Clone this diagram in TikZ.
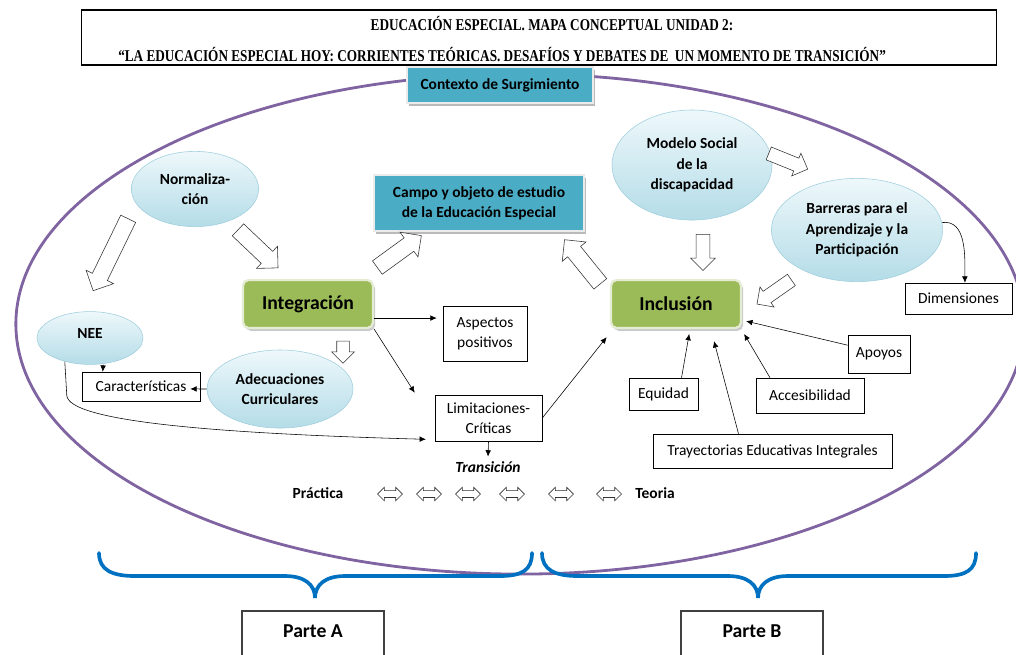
\documentclass[tikz,border=0pt]{standalone}
\usepackage{fontspec}
\setmainfont{Carlito}
\newfontfamily\titlefont{Liberation Serif}
\usetikzlibrary{shapes.geometric,shapes.arrows,arrows.meta,shadows,positioning}

\definecolor{tealfill}{HTML}{4BACC6}
\definecolor{greenfill}{HTML}{9BBB59}
\definecolor{greenedge}{HTML}{E4ECD3}
\definecolor{ovaltop}{HTML}{EEF8FB}
\definecolor{ovalbot}{HTML}{B4DCE7}
\definecolor{ovalline}{HTML}{9FCEDD}
\definecolor{bigoval}{HTML}{8064A2}
\definecolor{bracecol}{HTML}{0070C0}

\begin{document}
\begin{tikzpicture}[x=0.025cm, y=-0.025cm,
    oval/.style={ellipse, draw=ovalline, top color=ovaltop, bottom color=ovalbot,
      inner sep=0pt, align=center, font=\fontsize{11}{14.5}\selectfont\bfseries},
    tealbox/.style={rectangle, draw=white!92!black, line width=1pt, fill=tealfill,
      drop shadow={shadow xshift=1.5pt, shadow yshift=-2pt, fill=black!45, opacity=0.6},
      align=center, font=\fontsize{11}{14.5}\selectfont\bfseries},
    greenbox/.style={rectangle, rounded corners=4pt, draw=greenedge, line width=1.6pt,
      fill=greenfill, minimum width=3.25cm, minimum height=1.2cm,
      drop shadow={shadow xshift=1.5pt, shadow yshift=-2pt, fill=black!35, opacity=0.6},
      font=\fontsize{14}{16}\selectfont\bfseries},
    plainbox/.style={rectangle, draw=black, thin, fill=white, align=center,
      inner sep=2pt, font=\fontsize{11}{14.5}\selectfont},
    partebox/.style={rectangle, draw=black!75, line width=0.8pt, minimum width=3.55cm,
      minimum height=1.4cm, text height=0.32cm, text depth=0.42cm,
      font=\fontsize{14}{16}\selectfont\bfseries},
    blockarrow/.style={single arrow, draw=black!80, fill=white, thin, inner xsep=0pt,
      inner ysep=0.2cm, minimum width=0.75cm, single arrow head extend=0.175cm},
    smallarrow/.style={blockarrow, inner ysep=0.165cm, minimum width=0.6cm,
      single arrow head extend=0.135cm},
    twoway/.style={double arrow, draw=black!80, fill=white, thin, inner xsep=0pt,
      inner ysep=0.08cm, minimum height=0.62cm, minimum width=0.33cm,
      double arrow head extend=0.08cm},
    conn/.style={-{Latex[length=4.5pt,width=4pt]}, thin}
  ]
  \useasboundingbox (0,0) rectangle (1016,654);

  % big oval around everything
  \draw[bigoval, line width=2pt] (520,324) ellipse [x radius=12.6cm, y radius=6.25cm];

  % title
  \node[draw, line width=0.8pt, minimum width=22.85cm, minimum height=1.375cm] (titlebox) at (539,37.5) {};
  \node[font=\titlefont\fontsize{9.4}{11}\selectfont\bfseries] (tline1) at (552,24)
    {\scalebox{1}[1.25]{EDUCACIÓN ESPECIAL. MAPA CONCEPTUAL UNIDAD 2:}};
  \node[anchor=west, inner sep=0pt, font=\titlefont\fontsize{9.4}{11}\selectfont\bfseries] (tline2) at (118,55)
    {\scalebox{1}[1.25]{“LA EDUCACIÓN ESPECIAL HOY: CORRIENTES TEÓRICAS. DESAFÍOS Y DEBATES DE \ UN MOMENTO DE TRANSICIÓN”}};

  % teal boxes
  \node[tealbox, minimum width=4.65cm, minimum height=0.9cm] (ctx) at (500,85) {Contexto de Surgimiento};
  \node[tealbox, minimum width=5.25cm, minimum height=1.4cm] (campo) at (479,203)
    {Campo y objeto de estudio\\de la Educación Especial};

  % ovals
  \node[oval, minimum width=3.18cm, minimum height=1.88cm] (norm) at (195,189) {Normaliza-\\ción};
  \node[oval, minimum width=2.65cm, minimum height=1.32cm, text depth=0.22cm] (nee) at (90,338) {NEE};
  \node[oval, minimum width=3.65cm, minimum height=1.95cm] (adec) at (280,389) {Adecuaciones\\Curriculares};
  \node[oval, minimum width=4.0cm, minimum height=2.75cm] (modelo) at (692,165) {Modelo Social\\de la\\discapacidad};
  \node[oval, minimum width=4.28cm, minimum height=2.58cm] (barr) at (857,230)
    {Barreras para el\\Aprendizaje y la\\Participación};

  % green boxes
  \node[greenbox] (integ) at (308,304) {Integración};
  \node[greenbox] (inc) at (676,304) {Inclusión};

  % plain boxes
  \node[plainbox, minimum width=2.95cm, minimum height=0.725cm] (car) at (141,386.5) {Características};
  \node[plainbox, minimum width=2.1cm, minimum height=1.375cm] (asp) at (485,333.5) {Aspectos\\positivos};
  \node[plainbox, minimum width=2.675cm, minimum height=1.15cm] (lim) at (488.5,418) {Limitaciones-\\Críticas};
  \node[plainbox, minimum width=1.725cm, minimum height=0.8cm] (equi) at (663.5,394) {Equidad};
  \node[plainbox, minimum width=2.7cm, minimum height=0.875cm] (acc) at (810,395.5) {Accesibilidad};
  \node[plainbox, minimum width=1.55cm, minimum height=0.95cm] (apo) at (879,354) {Apoyos};
  \node[plainbox, minimum width=5.975cm, minimum height=0.85cm] (tray) at (772.5,451) {Trayectorias Educativas Integrales};
  \node[plainbox, minimum width=2.675cm, minimum height=0.775cm] (dim) at (958.5,298.5) {Dimensiones};

  % transition row
  \node[font=\fontsize{11}{13}\selectfont\bfseries\itshape] (trans) at (488,467) {Transición};
  \node[font=\fontsize{11}{13}\selectfont\bfseries] (prac) at (318,493) {Práctica};
  \node[font=\fontsize{11}{13}\selectfont\bfseries] (teo) at (655,493) {Teoria};
  \foreach \x [count=\i] in {390,429,468,512,561,609}
    \node[twoway] (tw\i) at (\x,494) {};

  % hollow block arrows
  \node[blockarrow, minimum height=2.0cm, rotate=244] (ba1) at (112.5,251) {};
  \node[blockarrow, minimum height=1.38cm, rotate=-43.5] (ba2) at (255,246) {};
  \node[blockarrow, minimum height=1.36cm, rotate=36] (ba3) at (396,254) {};
  \node[blockarrow, minimum height=1.42cm, rotate=129] (ba4) at (585,265) {};
  \node[smallarrow, minimum height=1.05cm, rotate=-22] (ba5) at (785,160) {};
  \node[smallarrow, minimum height=0.9cm, rotate=-90] (ba6) at (703,249) {};
  \node[smallarrow, minimum height=1.05cm, rotate=215] (ba7) at (777,290) {};
  \node[smallarrow, minimum height=0.55cm, inner ysep=0.15cm, minimum width=0.55cm,
    single arrow head extend=0.125cm, rotate=-90] (ba8) at (343,349) {};

  % connectors
  \draw[conn, shorten >=0.15cm] (integ.-12) -- (asp.west |- integ.-12);
  \draw[conn] (integ.south east) -- ([xshift=-0.5cm,yshift=0.05cm]lim.north west);
  \draw[conn] (lim.east) -- ([xshift=-0.08cm,yshift=-0.2cm]inc.south west);
  \draw[conn] ([xshift=0.33cm]nee.south) -- ([xshift=0.525cm]car.north west);
  \draw[conn] (adec.west) -- ([xshift=-0.25cm,yshift=-0.06cm]car.east);
  \draw[conn] (nee.-137) -- ++(2,34) .. controls +(2,25) and +(-220,-6) .. ([xshift=-0.22cm,yshift=0.05cm]lim.south west);
  \draw[conn] (lim.south) -- (trans.north);
  \draw[conn] ([xshift=0.45cm]equi.north) -- ([xshift=0.33cm,yshift=-0.12cm]inc.south);
  \draw[conn] ([xshift=-0.85cm]tray.north) -- ([xshift=0.95cm,yshift=-0.3cm]inc.south);
  \draw[conn] ([xshift=-1cm]acc.north) -- ([xshift=0.05cm,yshift=-0.12cm]inc.south east);
  \draw[conn] ([yshift=0.22cm]apo.west) -- ([xshift=0.1cm,yshift=0.2cm]inc.south east);
  \draw[conn] (barr.5) to[out=8,in=90] ([xshift=0.16cm]dim.north);

  % braces
  \draw[bracecol, line width=2.6pt, line cap=round]
    (99,553) .. controls (99,570) and (112,576) .. (135,576) -- (285,576)
    .. controls (305,576) and (315,585) .. (315,598)
    .. controls (315,585) and (325,576) .. (345,576) -- (500,576)
    .. controls (522,576) and (532,570) .. (532,553);
  \draw[bracecol, line width=2.6pt, line cap=round]
    (542,553) .. controls (542,570) and (555,576) .. (578,576) -- (728,576)
    .. controls (748,576) and (758,585) .. (758,598)
    .. controls (758,585) and (768,576) .. (788,576) -- (944,576)
    .. controls (966,576) and (976,570) .. (976,553);

  \node[partebox] (pa) at (313,639) {Parte A};
  \node[partebox] (pb) at (752,639) {Parte B};
\end{tikzpicture}
\end{document}
